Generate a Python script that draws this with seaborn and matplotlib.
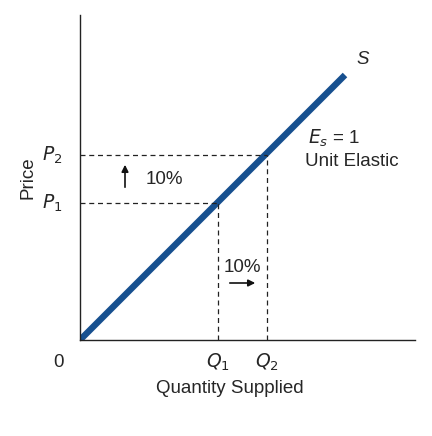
import matplotlib
matplotlib.use("Agg")
import matplotlib.pyplot as plt
import seaborn as sns
import pandas as pd

sns.set_style("white")
plt.rcParams['font.family'] = ['Liberation Sans', 'DejaVu Sans']

quantity = [0, 265]
price = [0, 265]
q_marks = [138, 187]
p_marks = [137, 185]
q_labels = ["$Q_1$", "$Q_2$"]
p_labels = ["$P_1$", "$P_2$"]

fig = plt.figure(figsize=(4.32, 4.36), dpi=100)
ax = fig.add_axes([80/432, 96/436, 335/432, 325/436])
df = pd.DataFrame({"q": quantity, "p": price})
sns.lineplot(data=df, x="q", y="p", ax=ax, color="#17508f", linewidth=4.6, solid_capstyle="butt")
for q, p in zip(q_marks, p_marks):
    ax.plot([0, q], [p, p], ls=(0, (4, 3)), color="#222", lw=0.9)
    ax.plot([q, q], [0, p], ls=(0, (4, 3)), color="#222", lw=0.9)
ax.set_xlim(0, 335)
ax.set_ylim(0, 325)
ax.set_xticks([]); ax.set_yticks([])
ax.set_xlabel(""); ax.set_ylabel("")
for s in ["top", "right"]:
    ax.spines[s].set_visible(False)
for s in ["left", "bottom"]:
    ax.spines[s].set_color("#222"); ax.spines[s].set_linewidth(1)

fs = 13.5
for q, l in zip(q_marks, q_labels):
    ax.text(q, -12, l, ha="center", va="top", fontsize=fs)
for p, l in zip(p_marks, p_labels):
    ax.text(-18, p, l, ha="right", va="center", fontsize=fs)
ax.text(-16, -14, "0", ha="right", va="top", fontsize=fs)
ax.text(150, -40, "Quantity Supplied", ha="center", va="top", fontsize=fs)
ax.text(-52, 162, "Price", rotation=90, ha="center", va="center", fontsize=fs)
ax.text(283, 280, "S", style="italic", ha="center", va="center", fontsize=fs)
ax.text(228, 202, "$E_s$ = 1", ha="left", va="center", fontsize=fs)
ax.text(225, 178, "Unit Elastic", ha="left", va="center", fontsize=fs)
ax.annotate("", xy=(45, 178), xytext=(45, 150),
            arrowprops=dict(arrowstyle="-|>", color="#111", lw=1.2, mutation_scale=10))
ax.text(66, 161, "10%", ha="left", va="center", fontsize=fs)
ax.text(162, 72, "10%", ha="center", va="center", fontsize=fs)
ax.annotate("", xy=(178, 57), xytext=(147, 57),
            arrowprops=dict(arrowstyle="-|>", color="#111", lw=1.2, mutation_scale=10))
fig.savefig("out.png", dpi=100)
